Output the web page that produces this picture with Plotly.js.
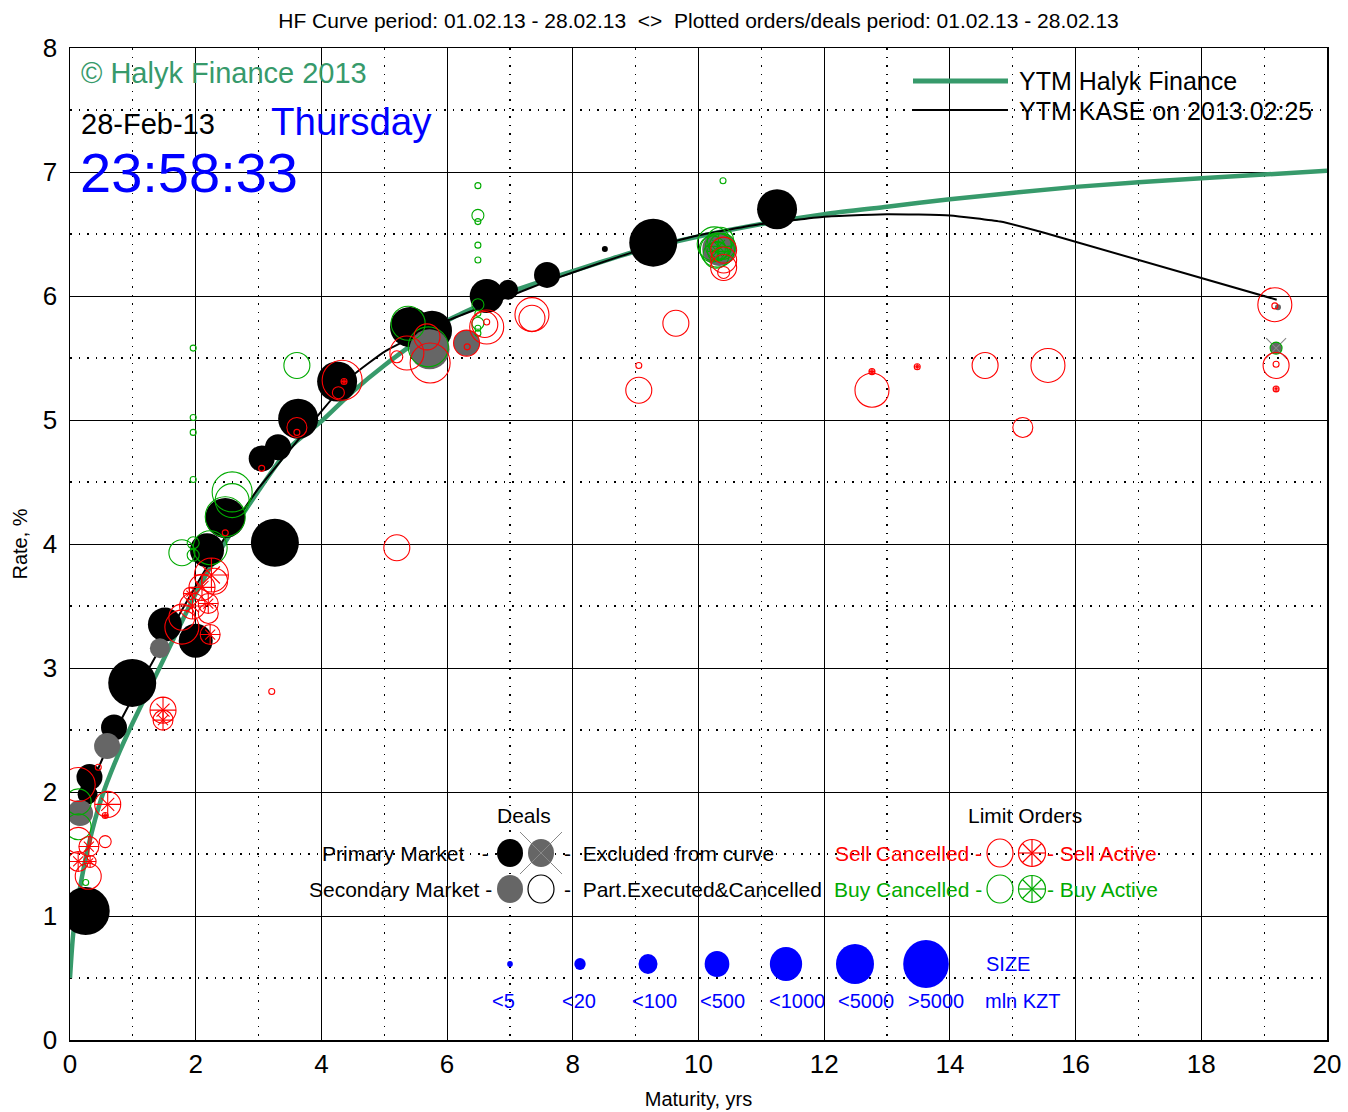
<!DOCTYPE html>
<html><head><meta charset="utf-8">
<script src="https://cdn.plot.ly/plotly-3.0.1.min.js"></script>
<style>html,body{margin:0;padding:0;background:#fff}#chart{width:1348px;height:1112px}</style>
</head><body><div id="chart"></div>
<script>
// ---------------- DATA ----------------
// HF fitted curve
const hfX = [0, 0.05, 0.15, 0.3, 0.5, 0.75, 1.0, 1.5, 2.0, 2.5, 3.0, 3.5, 4.0, 4.5, 5.0, 6.0, 7.0, 8.0, 9.0, 10.0, 11.0, 12.0, 13.0, 14.0, 16.0, 18.0, 20.0];
const hfY = [0.5, 0.85, 1.2, 1.58, 1.95, 2.28, 2.56, 3.08, 3.6, 4.04, 4.43, 4.78, 4.99, 5.23, 5.44, 5.8, 6.03, 6.2, 6.36, 6.48, 6.58, 6.66, 6.72, 6.78, 6.88, 6.95, 7.01];
// KASE curve on 2013.02.25
const kaseX = [0.1, 0.25, 0.5, 0.75, 1.0, 1.5, 2.0, 2.5, 3.0, 3.5, 4.0, 4.5, 5.0, 5.5, 6.0, 6.5, 7.0, 7.5, 8.0, 9.0, 10.0, 11.0, 12.0, 13.0, 14.0, 14.8, 15.5, 19.2];
const kaseY = [1.75, 1.95, 2.25, 2.52, 2.76, 3.22, 3.66, 4.08, 4.45, 4.76, 5.07, 5.36, 5.55, 5.68, 5.8, 5.9, 6.0, 6.1, 6.19, 6.36, 6.49, 6.58, 6.64, 6.66, 6.65, 6.6, 6.51, 5.97];

// size classes (mln KZT)
const sizeLabels = ['<5', '<20', '<100', '<500', '<1000', '<5000', '>5000'];

// Deals - primary market
const primX =   [0.25, 0.31, 0.28, 0.70, 0.99, 1.51, 2.00, 2.18, 2.47, 3.05, 3.31, 3.26, 3.63, 4.25, 5.41, 5.76, 6.63, 6.97, 7.59, 8.51, 9.28, 11.25];
const primY =   [1.04, 2.12, 1.98, 2.52, 2.88, 3.35, 3.22, 3.95, 4.21, 4.69, 4.78, 4.01, 5.01, 5.31, 5.75, 5.72, 6.00, 6.05, 6.17, 6.38, 6.43, 6.70];
const primCls = [6, 3, 2, 3, 6, 4, 4, 4, 5, 3, 3, 6, 5, 5, 5, 5, 4, 2, 3, 0, 6, 5];

// Deals - secondary market
const secX =   [0.16, 0.59, 1.43, 5.72, 6.31, 10.33, 19.22];
const secY =   [1.83, 2.37, 3.16, 5.57, 5.62, 6.38, 5.91];
const secCls = [3, 3, 2, 5, 3, 4, 0];

// Deals excluded from curve
const exclX = [19.19];
const exclY = [5.58];
const exclCls = [1];

// Limit orders - sell cancelled
const sellCX =   [0.13, 0.45, 0.13, 0.56, 0.29, 1.78, 1.78, 2.20, 2.30, 2.47, 3.05, 3.21, 3.61, 3.61, 4.33, 4.27, 5.20, 5.20, 5.36, 5.68, 5.73, 6.32, 6.31, 6.63, 6.60, 6.63, 7.35, 7.35, 9.05, 9.05, 9.64, 10.40, 10.40, 10.40, 10.40, 12.76, 14.56, 15.56, 15.16, 19.17, 19.17, 19.19, 19.19];
const sellCY =   [2.06, 2.20, 1.61, 1.60, 1.32, 3.33, 3.41, 3.44, 3.70, 4.09, 4.61, 2.81, 4.94, 4.90, 5.32, 5.22, 3.97, 5.51, 5.54, 5.67, 5.46, 5.59, 5.62, 5.75, 5.77, 5.79, 5.85, 5.82, 5.44, 5.24, 5.78, 6.37, 6.29, 6.23, 6.19, 5.24, 5.44, 5.44, 4.94, 5.93, 5.92, 5.44, 5.45];
const sellCCls = [4, 0, 3, 1, 3, 4, 3, 2, 3, 0, 0, 0, 2, 0, 5, 1, 3, 1, 4, 3, 5, 0, 3, 4, 3, 0, 4, 3, 0, 3, 3, 3, 3, 3, 1, 4, 3, 4, 2, 4, 0, 3, 0];

// Limit orders - sell active
const sellAX =   [0.60, 0.56, 0.30, 0.13, 0.32, 1.48, 1.48, 1.95, 2.10, 2.25, 2.23, 2.20, 1.90, 4.36, 12.76, 13.48, 19.19];
const sellAY =   [1.90, 1.81, 1.56, 1.44, 1.44, 2.66, 2.58, 3.50, 3.65, 3.75, 3.27, 3.52, 3.60, 5.31, 5.39, 5.43, 5.25];
const sellACls = [3, 0, 2, 2, 1, 3, 2, 3, 3, 4, 2, 2, 1, 0, 0, 0, 0];

// Limit orders - buy cancelled
const buyCX =   [0.13, 0.13, 0.25, 1.78, 1.96, 1.96, 1.96, 1.96, 1.96, 1.96, 2.23, 2.47, 2.58, 2.58, 3.61, 5.38, 5.70, 6.49, 6.49, 6.49, 6.49, 6.49, 6.49, 6.49, 6.49, 6.49, 6.49, 10.39, 10.25, 10.30, 10.35, 10.28, 10.22, 10.38, 19.19];
const buyCY =   [1.92, 1.72, 1.27, 3.93, 4.01, 3.91, 4.52, 4.90, 5.02, 5.58, 3.97, 4.22, 4.42, 4.35, 5.44, 5.78, 5.59, 6.89, 6.65, 6.60, 6.41, 6.29, 5.93, 5.86, 5.78, 5.74, 5.70, 6.93, 6.42, 6.37, 6.45, 6.33, 6.38, 6.40, 5.58];
const buyCCls = [3, 3, 0, 3, 1, 1, 0, 0, 0, 0, 4, 5, 5, 4, 3, 4, 5, 0, 1, 0, 0, 0, 1, 0, 1, 0, 0, 0, 4, 4, 3, 3, 3, 3, 1];

// Limit orders - buy active
const buyAX =   [10.32, 10.30];
const buyAY =   [6.40, 6.36];
const buyACls = [3, 2];

// ---------------- STYLE ----------------
const DIAM = [6, 12, 20, 26, 34, 40, 48];
const HFGREEN = '#379a6b';
const RED = '#ff0000';
const GREEN = '#00aa00';
const GRAY = '#666666';
const BLUE = '#0000ff';
const FONT = 'Liberation Sans, Arial, Helvetica, sans-serif';
const L = 70, T = 48, W = 1257, H = 992;
const fx = px => (px - L) / W;
const fy = py => (T + H - py) / H;
const sz = cls => cls.map(c => DIAM[c]);

function filled(xs, ys, cls, color) {
  return {x: xs, y: ys, mode: 'markers', marker: {symbol: 'circle', color: color, opacity: 1, size: sz(cls), line: {width: 0}}};
}
function open(xs, ys, sizes, symbol, color) {
  return {x: xs, y: ys, mode: 'markers', marker: {symbol: symbol, color: color, opacity: 1, size: sizes, line: {width: 1.1, color: color}}};
}

const traces = [
  {x: hfX, y: hfY, mode: 'lines', line: {color: HFGREEN, width: 4.5, shape: 'spline', smoothing: 0.6}},
  {x: kaseX, y: kaseY, mode: 'lines', line: {color: 'black', width: 2, shape: 'spline', smoothing: 0.4}},
  filled(primX, primY, primCls, 'black'),
  filled(secX, secY, secCls, GRAY),
  filled(exclX, exclY, exclCls, GRAY),
  open(exclX, exclY, [20], 'x-thin-open', '#888888'),
  open(buyCX, buyCY, sz(buyCCls), 'circle-open', GREEN),
  open(buyAX, buyAY, sz(buyACls), 'circle-cross-open', GREEN),
  open(buyAX, buyAY, sz(buyACls).map(d => d * 0.5), 'x-thin-open', GREEN),
  open(sellCX, sellCY, sz(sellCCls), 'circle-open', RED),
  open(sellAX, sellAY, sz(sellACls), 'circle-cross-open', RED),
  open(sellAX, sellAY, sz(sellACls).map(d => d * 0.5), 'x-thin-open', RED)
];

// ---------------- LEGEND DECORATIONS ----------------
const shapes = [];
const NONE = 'rgba(0,0,0,0)';
function circ(px, py, w, h, fill, line) {
  shapes.push({type: 'circle', xref: 'paper', yref: 'paper', xsizemode: 'pixel', ysizemode: 'pixel',
    xanchor: fx(px), yanchor: fy(py), x0: -w / 2, x1: w / 2, y0: -h / 2, y1: h / 2,
    fillcolor: fill, line: {color: line, width: line === NONE ? 0 : 1.2}});
}
function seg(px, py, dx0, dy0, dx1, dy1, color, width) {
  shapes.push({type: 'line', xref: 'paper', yref: 'paper', xsizemode: 'pixel', ysizemode: 'pixel',
    xanchor: fx(px), yanchor: fy(py), x0: dx0, y0: dy0, x1: dx1, y1: dy1, line: {color: color, width: width}});
}
function active(px, py, d, color) {
  circ(px, py, d, d, NONE, color);
  const r = d / 2, q = r * 0.707;
  seg(px, py, -r, 0, r, 0, color, 1.2);
  seg(px, py, 0, -r, 0, r, color, 1.2);
  seg(px, py, -q, -q, q, q, color, 1.2);
  seg(px, py, -q, q, q, -q, color, 1.2);
}
// deals legend
circ(510, 853, 26, 28, 'black', NONE);
circ(541, 853, 26, 28, GRAY, NONE);
seg(541, 853, -21, -21, 21, 21, '#888888', 1);
seg(541, 853, -21, 21, 21, -21, '#888888', 1);
circ(510, 889, 26, 28, GRAY, NONE);
circ(541, 889, 26, 28, NONE, 'black');
// orders legend
circ(1000, 853, 26, 28, NONE, RED);
active(1032, 853, 27, RED);
circ(1000, 889, 26, 28, NONE, GREEN);
active(1032, 889, 27, GREEN);
// size legend
const sizeLegX = [510, 580, 648, 717, 786, 855, 926];
sizeLegX.forEach((px, i) => circ(px, 964, DIAM[i] * 0.95, DIAM[i], BLUE, NONE));
// YTM legend lines
shapes.push({type: 'line', xref: 'paper', yref: 'paper', x0: fx(913), x1: fx(1008), y0: fy(81), y1: fy(81), line: {color: HFGREEN, width: 5}});
shapes.push({type: 'line', xref: 'paper', yref: 'paper', x0: fx(913), x1: fx(1008), y0: fy(110), y1: fy(110), line: {color: 'black', width: 2}});

const annotations = [];
function txt(text, px, py, size, color, anchor) {
  annotations.push({text: text, xref: 'paper', yref: 'paper', x: fx(px), y: fy(py), xanchor: anchor || 'center', yanchor: 'middle',
    showarrow: false, font: {family: FONT, size: size, color: color}, borderpad: 0});
}
const NB = '\u00a0';
txt('© Halyk Finance 2013', 80, 73, 29, HFGREEN, 'left');
txt('28-Feb-13', 80, 124, 29, 'black', 'left');
txt('Thursday', 270, 122, 38.5, BLUE, 'left');
txt('23:58:33', 79, 173, 56, BLUE, 'left');
txt('YTM Halyk Finance', 1018, 81, 25, 'black', 'left');
txt('YTM KASE on 2013.02:25', 1018, 111, 25, 'black', 'left');
txt('Deals', 524, 815, 21, 'black');
txt('Limit Orders', 1025, 815, 21, 'black');
txt('Primary Market' + NB + NB + NB + '-', 490, 853, 21, 'black', 'right');
txt('-' + NB + NB + 'Excluded from curve', 563, 853, 21, 'black', 'left');
txt('Secondary Market' + NB + '-', 493, 889, 21, 'black', 'right');
txt('-' + NB + NB + 'Part.Executed&amp;Cancelled', 563, 889, 21, 'black', 'left');
txt('Sell Cancelled -', 983, 853, 21, RED, 'right');
txt('- Sell Active', 1046, 853, 21, RED, 'left');
txt('Buy Cancelled -', 983, 889, 21, GREEN, 'right');
txt('- Buy Active', 1046, 889, 21, GREEN, 'left');
const sizeLabX = [503, 579, 654, 722, 797, 866, 936];
sizeLabels.forEach((s, i) => txt(s.replace('<', '&lt;').replace('>', '&gt;'), sizeLabX[i], 1001, 20, BLUE));
txt('SIZE', 1008, 964, 20, BLUE);
txt('mln KZT', 1023, 1001, 20, BLUE);

const axisCommon = {
  showline: true, mirror: true, linecolor: 'black', linewidth: 1.5,
  showgrid: true, gridcolor: 'black', gridwidth: 1, zeroline: false,
  ticks: '', tickfont: {family: FONT, size: 26, color: 'black'}
};

const layout = {
  width: 1348, height: 1112,
  margin: {l: L, r: 1348 - L - W, t: T, b: 1112 - T - H},
  paper_bgcolor: 'white', plot_bgcolor: 'white',
  showlegend: false,
  font: {family: FONT, color: 'black'},
  title: {text: 'HF Curve period: 01.02.13 - 28.02.13 ' + NB + '&lt;&gt;' + NB + ' Plotted orders/deals period: 01.02.13 - 28.02.13',
    font: {family: FONT, size: 21, color: 'black'}, x: 0.5, xref: 'paper', xanchor: 'center', y: 1 - 21 / 1112, yref: 'container', yanchor: 'middle'},
  xaxis: Object.assign({}, axisCommon, {
    range: [0, 20], dtick: 2, tick0: 0,
    minor: {dtick: 1, showgrid: true, gridcolor: 'black', griddash: '1.5px,7px', gridwidth: 1.2},
    title: {text: 'Maturity, yrs', font: {family: FONT, size: 20, color: 'black'}, standoff: 14}
  }),
  yaxis: Object.assign({}, axisCommon, {
    range: [0, 8], dtick: 1, tick0: 0, ticklabelstandoff: 6,
    minor: {dtick: 0.5, showgrid: true, gridcolor: 'black', griddash: '1.5px,7px', gridwidth: 1.2},
    title: {text: 'Rate, %', font: {family: FONT, size: 20, color: 'black'}, standoff: 10}
  }),
  shapes: shapes,
  annotations: annotations
};

Plotly.newPlot('chart', traces, layout, {displayModeBar: false, staticPlot: true});
</script></body></html>
